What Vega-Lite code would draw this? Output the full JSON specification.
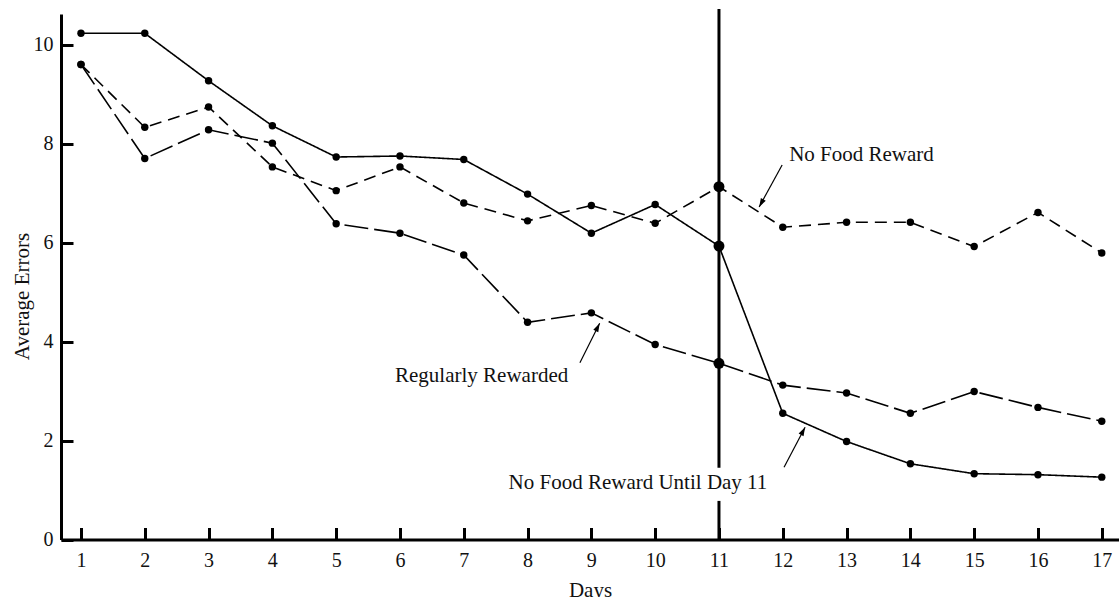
{
  "$schema": "https://vega.github.io/schema/vega-lite/v6.json",
  "width": 1058,
  "height": 525.5,
  "autosize": {"type": "none"},
  "padding": {"left": 61, "top": 14, "right": 0, "bottom": 57.5},
  "background": "white",
  "config": {
    "view": {"stroke": null},
    "font": "Liberation Serif",
    "axis": {
      "grid": false,
      "domainColor": "black",
      "domainWidth": 3,
      "tickColor": "black",
      "tickWidth": 3,
      "tickSize": -12,
      "labelFont": "Liberation Serif",
      "labelFontSize": 20,
      "labelColor": "#111",
      "titleFont": "Liberation Serif",
      "titleFontSize": 21,
      "titleFontWeight": "normal",
      "titleColor": "#111"
    }
  },
  "datasets": {
    "errors": [
      {"day": 1, "errors": 10.23, "group": "No Food Reward Until Day 11"},
      {"day": 2, "errors": 10.23, "group": "No Food Reward Until Day 11"},
      {"day": 3, "errors": 9.27, "group": "No Food Reward Until Day 11"},
      {"day": 4, "errors": 8.36, "group": "No Food Reward Until Day 11"},
      {"day": 5, "errors": 7.73, "group": "No Food Reward Until Day 11"},
      {"day": 6, "errors": 7.75, "group": "No Food Reward Until Day 11"},
      {"day": 7, "errors": 7.68, "group": "No Food Reward Until Day 11"},
      {"day": 8, "errors": 6.98, "group": "No Food Reward Until Day 11"},
      {"day": 9, "errors": 6.19, "group": "No Food Reward Until Day 11"},
      {"day": 10, "errors": 6.77, "group": "No Food Reward Until Day 11"},
      {"day": 11, "errors": 5.93, "group": "No Food Reward Until Day 11"},
      {"day": 12, "errors": 2.55, "group": "No Food Reward Until Day 11"},
      {"day": 13, "errors": 1.98, "group": "No Food Reward Until Day 11"},
      {"day": 14, "errors": 1.53, "group": "No Food Reward Until Day 11"},
      {"day": 15, "errors": 1.33, "group": "No Food Reward Until Day 11"},
      {"day": 16, "errors": 1.31, "group": "No Food Reward Until Day 11"},
      {"day": 17, "errors": 1.26, "group": "No Food Reward Until Day 11"},
      {"day": 1, "errors": 9.6, "group": "No Food Reward"},
      {"day": 2, "errors": 8.33, "group": "No Food Reward"},
      {"day": 3, "errors": 8.74, "group": "No Food Reward"},
      {"day": 4, "errors": 7.53, "group": "No Food Reward"},
      {"day": 5, "errors": 7.05, "group": "No Food Reward"},
      {"day": 6, "errors": 7.53, "group": "No Food Reward"},
      {"day": 7, "errors": 6.8, "group": "No Food Reward"},
      {"day": 8, "errors": 6.44, "group": "No Food Reward"},
      {"day": 9, "errors": 6.75, "group": "No Food Reward"},
      {"day": 10, "errors": 6.39, "group": "No Food Reward"},
      {"day": 11, "errors": 7.13, "group": "No Food Reward"},
      {"day": 12, "errors": 6.31, "group": "No Food Reward"},
      {"day": 13, "errors": 6.41, "group": "No Food Reward"},
      {"day": 14, "errors": 6.41, "group": "No Food Reward"},
      {"day": 15, "errors": 5.92, "group": "No Food Reward"},
      {"day": 16, "errors": 6.61, "group": "No Food Reward"},
      {"day": 17, "errors": 5.79, "group": "No Food Reward"},
      {"day": 1, "errors": 9.6, "group": "Regularly Rewarded"},
      {"day": 2, "errors": 7.7, "group": "Regularly Rewarded"},
      {"day": 3, "errors": 8.28, "group": "Regularly Rewarded"},
      {"day": 4, "errors": 8.01, "group": "Regularly Rewarded"},
      {"day": 5, "errors": 6.38, "group": "Regularly Rewarded"},
      {"day": 6, "errors": 6.19, "group": "Regularly Rewarded"},
      {"day": 7, "errors": 5.75, "group": "Regularly Rewarded"},
      {"day": 8, "errors": 4.39, "group": "Regularly Rewarded"},
      {"day": 9, "errors": 4.58, "group": "Regularly Rewarded"},
      {"day": 10, "errors": 3.94, "group": "Regularly Rewarded"},
      {"day": 11, "errors": 3.56, "group": "Regularly Rewarded"},
      {"day": 12, "errors": 3.12, "group": "Regularly Rewarded"},
      {"day": 13, "errors": 2.96, "group": "Regularly Rewarded"},
      {"day": 14, "errors": 2.55, "group": "Regularly Rewarded"},
      {"day": 15, "errors": 2.99, "group": "Regularly Rewarded"},
      {"day": 16, "errors": 2.67, "group": "Regularly Rewarded"},
      {"day": 17, "errors": 2.39, "group": "Regularly Rewarded"}
    ],
    "divider": [
      {"day": 11, "errors": 1.45, "errors2": 10.72},
      {"day": 11, "errors": 0, "errors2": 0.78}
    ],
    "labels": [
      {"day": 12.1, "errors": 7.77, "text": "No Food Reward", "anchor": "left"},
      {"day": 7.28, "errors": 3.3, "text": "Regularly Rewarded", "anchor": "center"},
      {"day": 9.73, "errors": 1.15, "text": "No Food Reward Until Day 11", "anchor": "center"}
    ],
    "arrows": [
      {"name": "nfr", "day": 11.99, "errors": 7.57, "day2": 11.63, "errors2": 6.72},
      {"name": "rr", "day": 8.82, "errors": 3.57, "day2": 9.13, "errors2": 4.37},
      {"name": "nfr11", "day": 12.02, "errors": 1.46, "day2": 12.35, "errors2": 2.27}
    ]
  },
  "layer": [
    {
      "data": {"name": "errors"},
      "mark": {"type": "line", "color": "black", "strokeWidth": 1.6},
      "encoding": {
        "x": {
          "field": "day", "type": "quantitative",
          "scale": {"domain": [0.687, 17.27], "nice": false, "zero": false},
          "axis": {
            "title": "Days",
            "values": [1,2,3,4,5,6,7,8,9,10,11,12,13,14,15,16,17],
            "format": "d",
            "labelPadding": 23,
            "labelBaseline": "top",
            "titleY": 40,
            "titleBaseline": "top"
          }
        },
        "y": {
          "field": "errors", "type": "quantitative",
          "scale": {"domain": [0, 10.62], "nice": false},
          "axis": {
            "title": "Average Errors",
            "values": [0, 2, 4, 6, 8, 10],
            "format": "d",
            "labelPadding": 20,
            "titleX": -39,
            "titleY": 282,
            "titleAngle": -90,
            "titleBaseline": "middle",
            "titleAlign": "center"
          }
        },
        "detail": {"field": "group"},
        "strokeDash": {
          "field": "group", "type": "nominal",
          "scale": {
            "domain": ["No Food Reward Until Day 11", "No Food Reward", "Regularly Rewarded"],
            "range": [[1, 0], [12, 7], [24, 6]]
          },
          "legend": null
        }
      }
    },
    {
      "data": {"name": "errors"},
      "mark": {"type": "point", "filled": true, "color": "black", "opacity": 1},
      "encoding": {
        "x": {"field": "day", "type": "quantitative"},
        "y": {"field": "errors", "type": "quantitative"},
        "size": {"condition": {"test": "datum.day === 11", "value": 120}, "value": 55}
      }
    },
    {
      "data": {"name": "divider"},
      "mark": {"type": "rule", "color": "black", "strokeWidth": 3},
      "encoding": {
        "x": {"field": "day", "type": "quantitative"},
        "y": {"field": "errors", "type": "quantitative"},
        "y2": {"field": "errors2"}
      }
    },
    {
      "data": {"name": "arrows"},
      "mark": {"type": "rule", "color": "black", "strokeWidth": 1.2},
      "encoding": {
        "x": {"field": "day", "type": "quantitative"},
        "y": {"field": "errors", "type": "quantitative"},
        "x2": {"field": "day2"},
        "y2": {"field": "errors2"}
      }
    },
    {
      "data": {"name": "arrows"},
      "transform": [{"filter": "datum.name === 'nfr'"}],
      "mark": {"type": "point", "filled": true, "color": "black", "opacity": 1, "shape": "M0,0L0.32,1L-0.32,1Z", "size": 300, "angle": 208.7},
      "encoding": {
        "x": {"field": "day2", "type": "quantitative"},
        "y": {"field": "errors2", "type": "quantitative"}
      }
    },
    {
      "data": {"name": "arrows"},
      "transform": [{"filter": "datum.name === 'rr'"}],
      "mark": {"type": "point", "filled": true, "color": "black", "opacity": 1, "shape": "M0,0L0.32,1L-0.32,1Z", "size": 300, "angle": 26.6},
      "encoding": {
        "x": {"field": "day2", "type": "quantitative"},
        "y": {"field": "errors2", "type": "quantitative"}
      }
    },
    {
      "data": {"name": "arrows"},
      "transform": [{"filter": "datum.name === 'nfr11'"}],
      "mark": {"type": "point", "filled": true, "color": "black", "opacity": 1, "shape": "M0,0L0.32,1L-0.32,1Z", "size": 300, "angle": 27.7},
      "encoding": {
        "x": {"field": "day2", "type": "quantitative"},
        "y": {"field": "errors2", "type": "quantitative"}
      }
    },
    {
      "data": {"name": "labels"},
      "transform": [{"filter": "datum.anchor === 'left'"}],
      "mark": {"type": "text", "align": "left", "baseline": "middle", "fontSize": 21, "font": "Liberation Serif", "color": "#111"},
      "encoding": {
        "x": {"field": "day", "type": "quantitative"},
        "y": {"field": "errors", "type": "quantitative"},
        "text": {"field": "text"}
      }
    },
    {
      "data": {"name": "labels"},
      "transform": [{"filter": "datum.anchor === 'center'"}],
      "mark": {"type": "text", "align": "center", "baseline": "middle", "fontSize": 21, "font": "Liberation Serif", "color": "#111"},
      "encoding": {
        "x": {"field": "day", "type": "quantitative"},
        "y": {"field": "errors", "type": "quantitative"},
        "text": {"field": "text"}
      }
    }
  ]
}
